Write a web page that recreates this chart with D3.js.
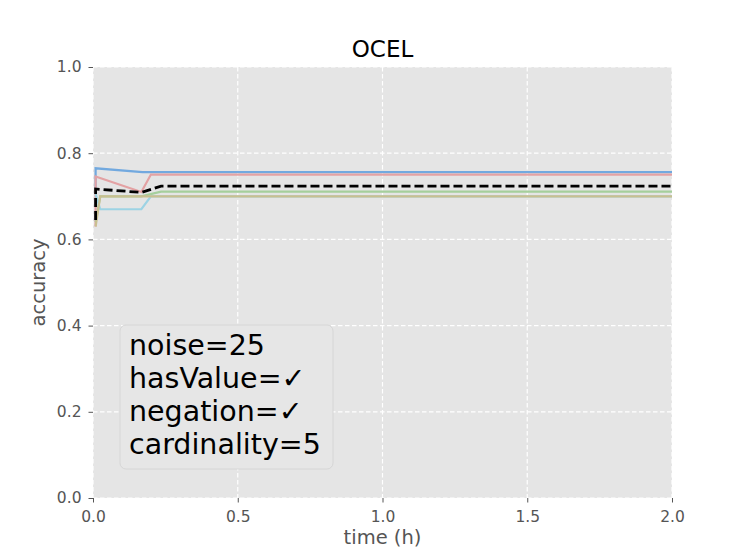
<!DOCTYPE html>
<html>
<head>
<meta charset="utf-8">
<script src="https://cdn.jsdelivr.net/npm/d3@7"></script>
<style>
  body { margin: 0; background: #fff; }
  svg { font-family: 'DejaVu Sans', sans-serif; }
</style>
</head>
<body>
<svg id="chart"></svg>
<script>
'use strict'

const WIDTH = 747;
const HEIGHT = 560;
const margin = {top: 67, right: 75, bottom: 62, left: 93};

// each run: time (h) and accuracy
const timeBlue = [0.009, 0.009, 0.171, 2.0];
const accBlue = [0.72, 0.765, 0.756, 0.756];
const timeRed = [0.009, 0.009, 0.167, 0.200, 2.0];
const accRed = [0.63, 0.746, 0.710, 0.7505, 0.7505];
const timeGreen = [0.009, 0.025, 0.167, 0.235, 2.0];
const accGreen = [0.64, 0.700, 0.700, 0.711, 0.711];
const timeCyan = [0.009, 0.025, 0.167, 0.200, 2.0];
const accCyan = [0.705, 0.670, 0.670, 0.700, 0.700];
const timeOlive = [0.009, 0.025, 2.0];
const accOlive = [0.63, 0.700, 0.700];
const timeMean = [0.009, 0.009, 0.167, 0.235, 2.0];
const accMean = [0.645, 0.717, 0.709, 0.7235, 0.7235];

const xTicks = [0, 0.5, 1.0, 1.5, 2.0];
const yTicks = [0, 0.2, 0.4, 0.6, 0.8, 1.0];
const infoLines = ['noise=25', 'hasValue=\u2713', 'negation=\u2713', 'cardinality=5'];

const series = [
  {t: timeBlue, v: accBlue, color: '#72a9df'},
  {t: timeRed, v: accRed, color: '#e3a2a4'},
  {t: timeGreen, v: accGreen, color: '#a5cf9c'},
  {t: timeCyan, v: accCyan, color: '#9dd3e4'},
  {t: timeOlive, v: accOlive, color: '#c9bf90'}
];

const svg = d3.select('#chart')
  .attr('width', WIDTH)
  .attr('height', HEIGHT);

const plotW = WIDTH - margin.left - margin.right;
const plotH = HEIGHT - margin.top - margin.bottom;

const xScale = d3.scaleLinear().domain([0, 2]).range([margin.left, margin.left + plotW]);
const yScale = d3.scaleLinear().domain([0, 1]).range([margin.top + plotH, margin.top]);

svg.append('rect')
  .attr('x', margin.left).attr('y', margin.top)
  .attr('width', plotW).attr('height', plotH)
  .attr('fill', '#e5e5e5');

// grid
svg.append('g').selectAll('line').data(xTicks).enter().append('line')
  .attr('x1', d => xScale(d)).attr('x2', d => xScale(d))
  .attr('y1', margin.top).attr('y2', margin.top + plotH)
  .attr('stroke', '#fff').attr('stroke-width', 1.2).attr('stroke-dasharray', '4.5,2.5');
svg.append('g').selectAll('line').data(yTicks).enter().append('line')
  .attr('x1', margin.left).attr('x2', margin.left + plotW)
  .attr('y1', d => yScale(d)).attr('y2', d => yScale(d))
  .attr('stroke', '#fff').attr('stroke-width', 1.2).attr('stroke-dasharray', '4.5,2.5');

// axes
const bottomAxis = d3.axisBottom(xScale).tickValues(xTicks).tickFormat(d3.format('.1f'))
  .tickSizeInner(4.5).tickSizeOuter(0).tickPadding(8);
const leftAxis = d3.axisLeft(yScale).tickValues(yTicks).tickFormat(d3.format('.1f'))
  .tickSizeInner(4.5).tickSizeOuter(0).tickPadding(7);

const gx = svg.append('g')
  .attr('transform', 'translate(0,' + (margin.top + plotH) + ')')
  .call(bottomAxis);
const gy = svg.append('g')
  .attr('transform', 'translate(' + margin.left + ',0)')
  .call(leftAxis);
[gx, gy].forEach(g => {
  g.attr('font-size', null).attr('font-family', null);
  g.select('.domain').remove();
  g.selectAll('.tick line').attr('stroke', '#555').attr('stroke-width', 1);
  g.selectAll('.tick text').attr('fill', '#555').style('font-size', '15.5px')
    .style('font-family', 'DejaVu Sans');
});

// lines
const clip = svg.append('clipPath').attr('id', 'clip').append('rect')
  .attr('x', margin.left).attr('y', margin.top).attr('width', plotW).attr('height', plotH);

const line = d3.line().x(d => xScale(d[0])).y(d => yScale(d[1]));
const plot = svg.append('g').attr('clip-path', 'url(#clip)');

series.forEach(s => {
  plot.append('path')
    .datum(d3.zip(s.t, s.v))
    .attr('d', line)
    .attr('fill', 'none')
    .attr('stroke', s.color)
    .attr('stroke-width', 2.2);
});

plot.append('path')
  .datum(d3.zip(timeMean, accMean))
  .attr('d', line)
  .attr('fill', 'none')
  .attr('stroke', '#000')
  .attr('stroke-width', 2.8)
  .attr('stroke-dasharray', '9,4');

// labels
svg.append('text')
  .attr('x', margin.left + plotW / 2).attr('y', 57.3)
  .attr('text-anchor', 'middle')
  .style('font-size', '23px')
  .text('OCEL');

svg.append('text')
  .attr('x', margin.left + plotW / 2).attr('y', 544)
  .attr('text-anchor', 'middle')
  .attr('fill', '#555')
  .style('font-size', '19.5px')
  .text('time (h)');

svg.append('text')
  .attr('transform', 'translate(45,' + (margin.top + plotH / 2) + ') rotate(-90)')
  .attr('text-anchor', 'middle')
  .attr('fill', '#555')
  .style('font-size', '19.5px')
  .text('accuracy');

// info box
svg.append('rect')
  .attr('x', 120).attr('y', 325).attr('width', 213).attr('height', 144)
  .attr('rx', 6)
  .attr('fill', '#e6e6e6')
  .attr('stroke', '#d6d6d6');

svg.append('g').selectAll('text').data(infoLines).enter().append('text')
  .attr('x', 129)
  .attr('y', (d, i) => 355 + i * 33)
  .style('font-size', '28.5px')
  .attr('fill', '#000')
  .text(d => d);
</script>
</body>
</html>
